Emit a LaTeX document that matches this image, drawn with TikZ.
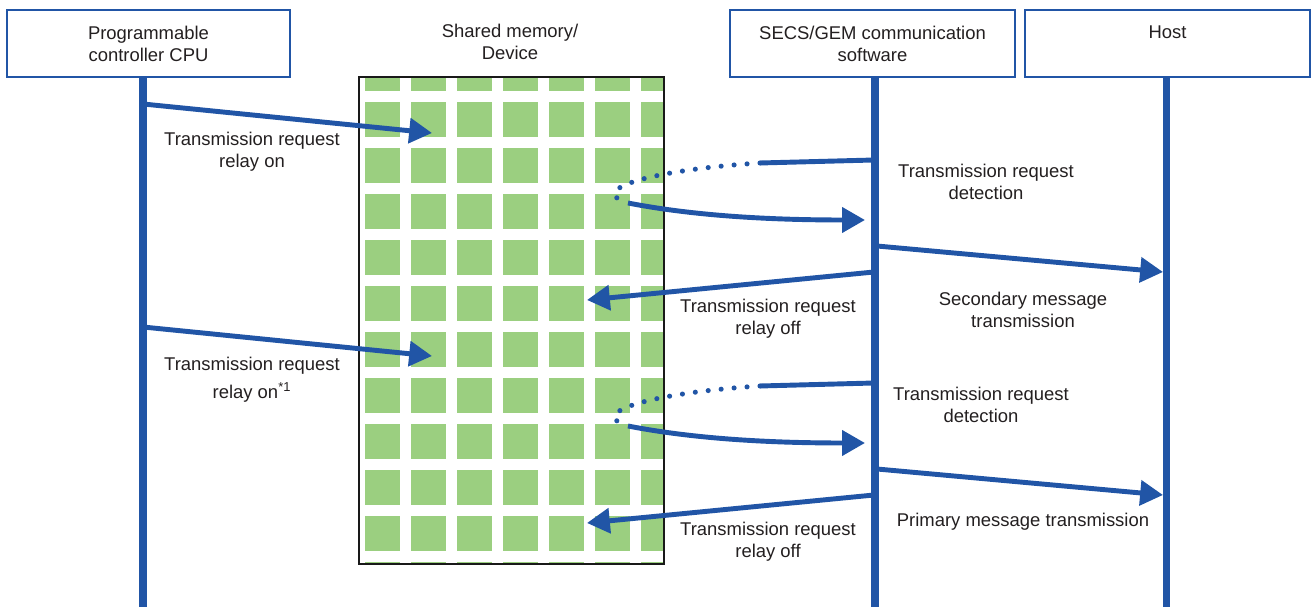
\documentclass[tikz,border=0pt]{standalone}
\usepackage{fontspec}
\setmainfont{Liberation Sans}
\usetikzlibrary{arrows.meta}
\definecolor{lineblue}{RGB}{33,85,166}
\definecolor{cellgreen}{RGB}{155,207,128}
\definecolor{txtgray}{RGB}{35,31,32}
\tikzset{
    actor/.style={draw=lineblue, line width=1.3pt, minimum height=1.34cm,
        align=center, text=txtgray},
    life/.style={lineblue, line width=4pt},
    msg/.style={lineblue, line width=2.8pt, -{Triangle[length=13pt,width=14pt]}},
    poll/.style={lineblue, line width=2.8pt},
    dots/.style={lineblue, line width=2.9pt, line cap=round, dash pattern=on 0pt off 7.4pt},
    lab/.style={align=center, text=txtgray},
}
\begin{document}
\begin{tikzpicture}[x=0.02cm, y=-0.02cm, font=\fontsize{10.5pt}{12.5pt}\selectfont]
    \useasboundingbox (0,0) rectangle (1311,607);

    \node[actor, minimum width=5.66cm] (cpu) at (148.5,43.5) {Programmable\\controller CPU};
    \node[actor, minimum width=5.7cm] (secs) at (872.5,43.5) {SECS/GEM communication\\software};
    \node[actor, minimum width=5.7cm] (host) at (1167.5,43.5) {Host\\\mbox{}};
    \node[lab] (memlab) at (510,42) {Shared memory/\\Device};

    \coordinate (cpuend) at (143,607);
    \coordinate (secsend) at (875,607);
    \coordinate (hostend) at (1166,607);
    \draw[life] (cpu.south -| cpuend) -- (cpuend);
    \draw[life] (secs.south -| secsend) -- (secsend);
    \draw[life] (host.south -| hostend) -- (hostend);

    % memory cells
    \begin{scope}
        \clip (360,78) rectangle (663,563);
        \foreach \c in {0,...,6}
        {
            \foreach \r in {0,...,11}
            {
                \fill[cellgreen] (365+46*\c, 56+46*\r) rectangle +(35,35);
            }
        }
    \end{scope}
    \node[draw=black!90, line width=1.4pt, minimum width=6.1cm, minimum height=9.74cm] (mem) at (511.5,320.5) {};

    \foreach \dy in {0,223}
    {
        \coordinate (on) at (143,104+\dy);
        \coordinate (onend) at (432,133+\dy);
        \coordinate (det) at (874,160+\dy);
        \coordinate (detmid) at (760,163+\dy);
        \coordinate (detturn) at (628,203+\dy);
        \coordinate (detend) at (865,220+\dy);
        \coordinate (send) at (877,246+\dy);
        \coordinate (sendend) at (1163,272+\dy);
        \coordinate (off) at (874,272+\dy);
        \coordinate (offend) at (587,300+\dy);

        \draw[msg] (on) -- (onend);
        \draw[poll] (det) -- (detmid);
        \draw[dots] (detmid) .. controls (650,170+\dy) and (585,190+\dy) .. (detturn);
        \draw[msg] (detturn) .. controls (700,217+\dy) and (780,220+\dy) .. (detend);
        \draw[msg] (send) -- (sendend);
        \draw[msg] (off) -- (offend);
    }

    \node[lab] (on1) at (252,152) {Transmission request\\relay on};
    \node[lab] (det1) at (986,182) {Transmission request\\detection};
    \node[lab] (off1) at (768,319) {Transmission request\\relay off};
    \node[lab] (sec) at (1023,310) {Secondary message\\transmission};
    \node[lab] (on2) at (252,380) {Transmission request\\[3.4pt]relay on\textsuperscript{*1}};
    \node[lab] (det2) at (981,405) {Transmission request\\detection};
    \node[lab] (off2) at (768,542) {Transmission request\\relay off};
    \node[lab] (pri) at (1023,522) {Primary message transmission};
\end{tikzpicture}
\end{document}
